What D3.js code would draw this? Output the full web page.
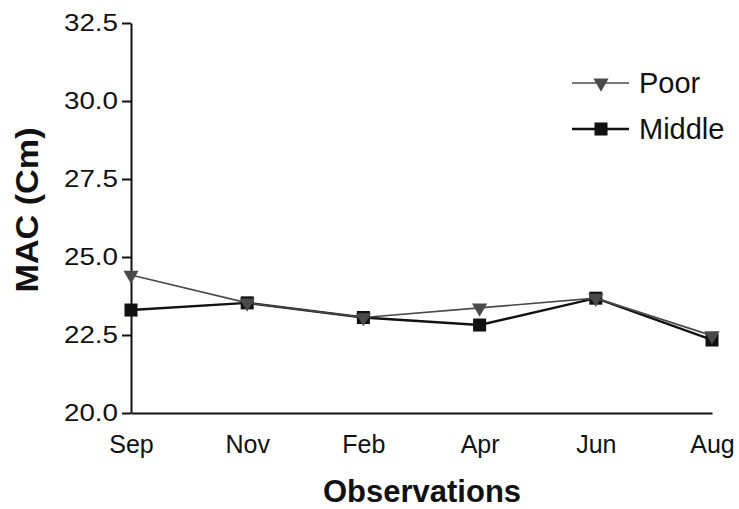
<!DOCTYPE html>
<html>
<head>
<meta charset="utf-8">
<script src="https://cdn.jsdelivr.net/npm/d3@7"></script>
<style>
  body { margin: 0; background: #fff; }
  text { font-family: "Liberation Sans", Arial, sans-serif; }
</style>
</head>
<body>
<div id="chart"></div>
<script>
// data
var months = ["Sep", "Nov", "Feb", "Apr", "Jun", "Aug"];
var poor = [24.42, 23.53, 23.06, 23.37, 23.68, 22.48];
var middle = [23.30, 23.53, 23.06, 22.82, 23.68, 22.34];
var yTicks = [20.0, 22.5, 25.0, 27.5, 30.0, 32.5];

var width = 739, height = 509;
var margin = {top: 23, right: 27, bottom: 96, left: 131};

var svg = d3.select("#chart").append("svg")
    .attr("width", width)
    .attr("height", height);

var x = d3.scalePoint()
    .domain(months)
    .range([margin.left, width - margin.right]);

var y = d3.scaleLinear()
    .domain([20, 32.5])
    .range([height - margin.bottom, margin.top]);

// axes
var yAxis = svg.append("g")
    .attr("transform", "translate(" + margin.left + ",0)")
    .call(d3.axisLeft(y).tickValues(yTicks).tickFormat(d3.format(".1f")).tickSize(9).tickSizeOuter(0));
yAxis.select(".domain").attr("stroke", "#111").attr("stroke-width", 2);
yAxis.selectAll(".tick line").attr("stroke", "#111").attr("stroke-width", 2);
yAxis.selectAll(".tick text")
    .attr("font-size", 24).attr("fill", "#111").attr("x", -13)
    .attr("textLength", 54).attr("lengthAdjust", "spacingAndGlyphs");

var xAxis = svg.append("g")
    .attr("transform", "translate(0," + (height - margin.bottom) + ")")
    .call(d3.axisBottom(x).tickSize(0).tickSizeOuter(0));
xAxis.select(".domain").attr("stroke", "#111").attr("stroke-width", 2);
xAxis.selectAll(".tick text")
    .attr("font-size", 25).attr("fill", "#111").attr("y", 22).attr("dy", "0.71em");

// axis titles
svg.append("text")
    .attr("transform", "translate(38,210) rotate(-90)")
    .attr("text-anchor", "middle")
    .attr("font-size", 31)
    .attr("font-weight", "bold")
    .attr("fill", "#111")
    .attr("textLength", 165).attr("lengthAdjust", "spacingAndGlyphs")
    .text("MAC (Cm)");

svg.append("text")
    .attr("x", 422)
    .attr("y", 502)
    .attr("text-anchor", "middle")
    .attr("font-size", 31)
    .attr("font-weight", "bold")
    .attr("fill", "#111")
    .text("Observations");

var line = d3.line()
    .x(function(d, i) { return x(months[i]); })
    .y(function(d) { return y(d); });

var tri = d3.symbol().type(d3.symbolTriangle).size(100);
var sq = d3.symbol().type(d3.symbolSquare).size(170);

// middle series (black, squares)
svg.append("path")
    .datum(middle)
    .attr("fill", "none")
    .attr("stroke", "#111")
    .attr("stroke-width", 2.4)
    .attr("d", line);

svg.selectAll(".sq")
    .data(middle)
    .enter().append("path")
    .attr("class", "sq")
    .attr("transform", function(d, i) { return "translate(" + x(months[i]) + "," + y(d) + ")"; })
    .attr("d", sq)
    .attr("fill", "#111");

// poor series (grey, down triangles)
svg.append("path")
    .datum(poor)
    .attr("fill", "none")
    .attr("stroke", "#4a4a4a")
    .attr("stroke-width", 1.6)
    .attr("d", line);

svg.selectAll(".tri")
    .data(poor)
    .enter().append("path")
    .attr("class", "tri")
    .attr("transform", function(d, i) { return "translate(" + x(months[i]) + "," + y(d) + ") rotate(180)"; })
    .attr("d", tri)
    .attr("fill", "#4a4a4a");

// legend
var legend = [
  {name: "Poor", color: "#4a4a4a", w: 1.6, sym: tri, rot: 180, y: 83},
  {name: "Middle", color: "#111", w: 2.4, sym: sq, rot: 0, y: 129}
];
var lg = svg.selectAll(".lg")
    .data(legend)
    .enter().append("g")
    .attr("class", "lg")
    .attr("transform", function(d) { return "translate(572," + d.y + ")"; });
lg.append("line")
    .attr("x1", 0).attr("x2", 57)
    .attr("stroke", function(d) { return d.color; })
    .attr("stroke-width", function(d) { return d.w; });
lg.append("path")
    .attr("transform", function(d) { return "translate(29,0) rotate(" + d.rot + ")"; })
    .attr("d", function(d) { return d.sym(); })
    .attr("fill", function(d) { return d.color; });
lg.append("text")
    .attr("x", 67)
    .attr("dy", "0.36em")
    .attr("font-size", 29)
    .attr("fill", "#111")
    .text(function(d) { return d.name; });
</script>
</body>
</html>
